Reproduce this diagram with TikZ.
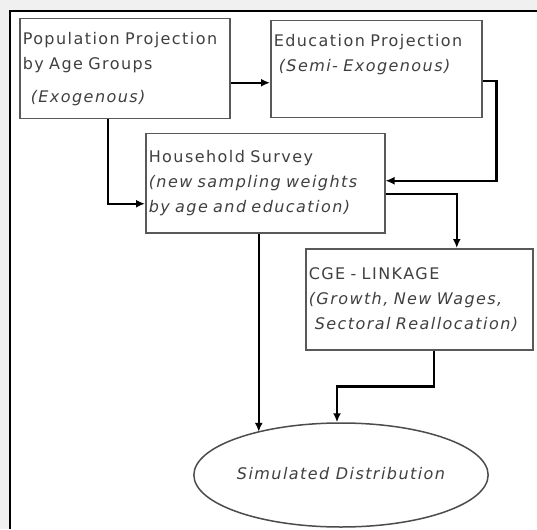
\documentclass[tikz,border=0pt]{standalone}
\usepackage{fontspec}
\setmainfont[LetterSpace=9]{DejaVu Sans}
\usepackage{tikz}
\usetikzlibrary{shapes.geometric,arrows.meta}

\begin{document}
\begin{tikzpicture}[x=1pt,y=-1pt]
\tikzstyle{every path}=[thick]
\tikzstyle{stage}=[draw=black!65,line width=1.5pt,rectangle,anchor=north west,
 align=left,inner xsep=3pt,inner ysep=0pt,text=black!75,
 font=\fontsize{16}{25}\selectfont]
\tikzstyle{outcome}=[draw=black!70,line width=1.5pt,ellipse,inner sep=0pt,
 minimum width=282pt,minimum height=104pt,text=black!75,
 font=\fontsize{16}{25}\selectfont\itshape]
\tikzstyle{link}=[line width=2.4pt,-{Latex[length=9pt,width=8pt]}]
% frame
\useasboundingbox (0,0) rectangle (537,529);
\fill[black!6] (0,0) rectangle (537,529);
\fill[white] (9,10) rectangle (537,529);
\draw[line width=2.5pt] (10,529) |- (537,11);
% boxes
\node [stage,minimum width=210pt,minimum height=100pt,text width=204pt] at (19,18) (pop)
 {Population Projection\\by Age Groups\\[8pt]\hspace*{8pt}\textit{(Exogenous)}};
\node [stage,minimum width=211pt,minimum height=97pt,text width=205pt] at (270,20) (edu)
 {Education Projection\\\hspace*{5pt}\textit{(Semi- Exogenous)}\\\strut};
\node [stage,minimum width=239pt,minimum height=99pt,text width=233pt] at (145,133) (hh)
 {Household Survey\\\textit{(new sampling weights}\\\textit{by age and education)}};
\node [stage,minimum width=227pt,minimum height=101pt,text width=221pt] at (305,248) (cge)
 {CGE - LINKAGE\\\textit{(Growth, New Wages,}\\\hspace*{6pt}\textit{Sectoral Reallocation)}};
\node [outcome] at (341,475) (sim) {\raisebox{3pt}{Simulated Distribution}};
% links
\draw[link] ([yshift=-14pt]pop.east) -- ([yshift=-14pt]pop.east -| edu.west);
\draw[link] ([xshift=-17pt]pop.south) |- ([yshift=-20.5pt]hh.west);
\draw[link] ([yshift=-11.5pt]edu.east) -- ++(14,0) |- ([yshift=2.5pt]hh.east);
\draw[link] ([yshift=-10.5pt]hh.east) -| ([xshift=37.5pt]cge.north);
\draw[link] ([xshift=-6.5pt]hh.south) -- ([xshift=-6.5pt]hh.south |- sim.153);
\draw[link] ([xshift=14.5pt]cge.south) -- ++(0,36) -| ([xshift=-4pt]sim.north);
\end{tikzpicture}
\end{document}
